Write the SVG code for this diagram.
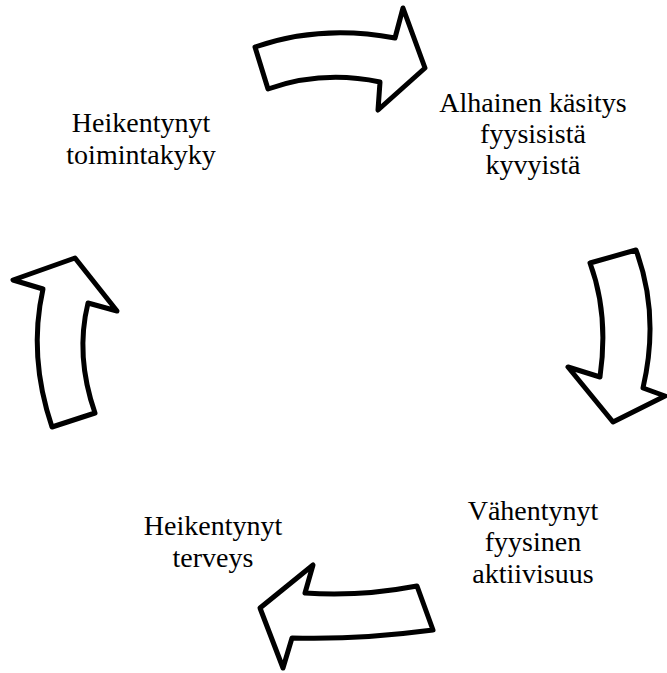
<svg xmlns="http://www.w3.org/2000/svg" width="667" height="673" viewBox="0 0 667 673">
  <style>
    .arrow { fill: #ffffff; stroke: #000000; stroke-width: 5; stroke-linejoin: round; }
    .label { font-family: "Liberation Serif", "Times New Roman", serif; font-size: 28px; fill: #000000; text-anchor: middle; }
  </style>
  <rect width="667" height="673" fill="#ffffff"/>

  <!-- curved block arrows forming the cycle -->
  <g id="connectors">
    <path id="arrow-top" class="arrow" d="M255,47 Q321,24 395,38 L403,8 L425,68 L378,110 L380,82 Q322,70 268,89 Z"/>
    <path id="arrow-right" class="arrow" d="M590,263 L636,250 Q660,315 643,388 L665,396 L613,422 L568,367 L600,377 Q609,314 590,263 Z"/>
    <path id="arrow-bottom" class="arrow" d="M417,586 L433,630 Q357,640 292,638 L283,668 L260,608 L313,565 L305,593 Q359,597 417,586 Z"/>
    <path id="arrow-left" class="arrow" d="M52,427 L95,413 Q75,356 88,303 L117,311 L75,258 L13,280 L43,289 Q28,356 52,427 Z"/>
  </g>

  <g id="node-toimintakyky">
    <text class="label" x="141" y="132">Heikentynyt</text>
    <text class="label" x="141" y="164">toimintakyky</text>
  </g>

  <g id="node-kasitys">
    <text class="label" x="533" y="112">Alhainen käsitys</text>
    <text class="label" x="533" y="143">fyysisistä</text>
    <text class="label" x="533" y="174">kyvyistä</text>
  </g>

  <g id="node-aktiivisuus">
    <text class="label" x="533" y="520">Vähentynyt</text>
    <text class="label" x="533" y="551">fyysinen</text>
    <text class="label" x="533" y="583">aktiivisuus</text>
  </g>

  <g id="node-terveys">
    <text class="label" x="213" y="535">Heikentynyt</text>
    <text class="label" x="213" y="567">terveys</text>
  </g>
</svg>
